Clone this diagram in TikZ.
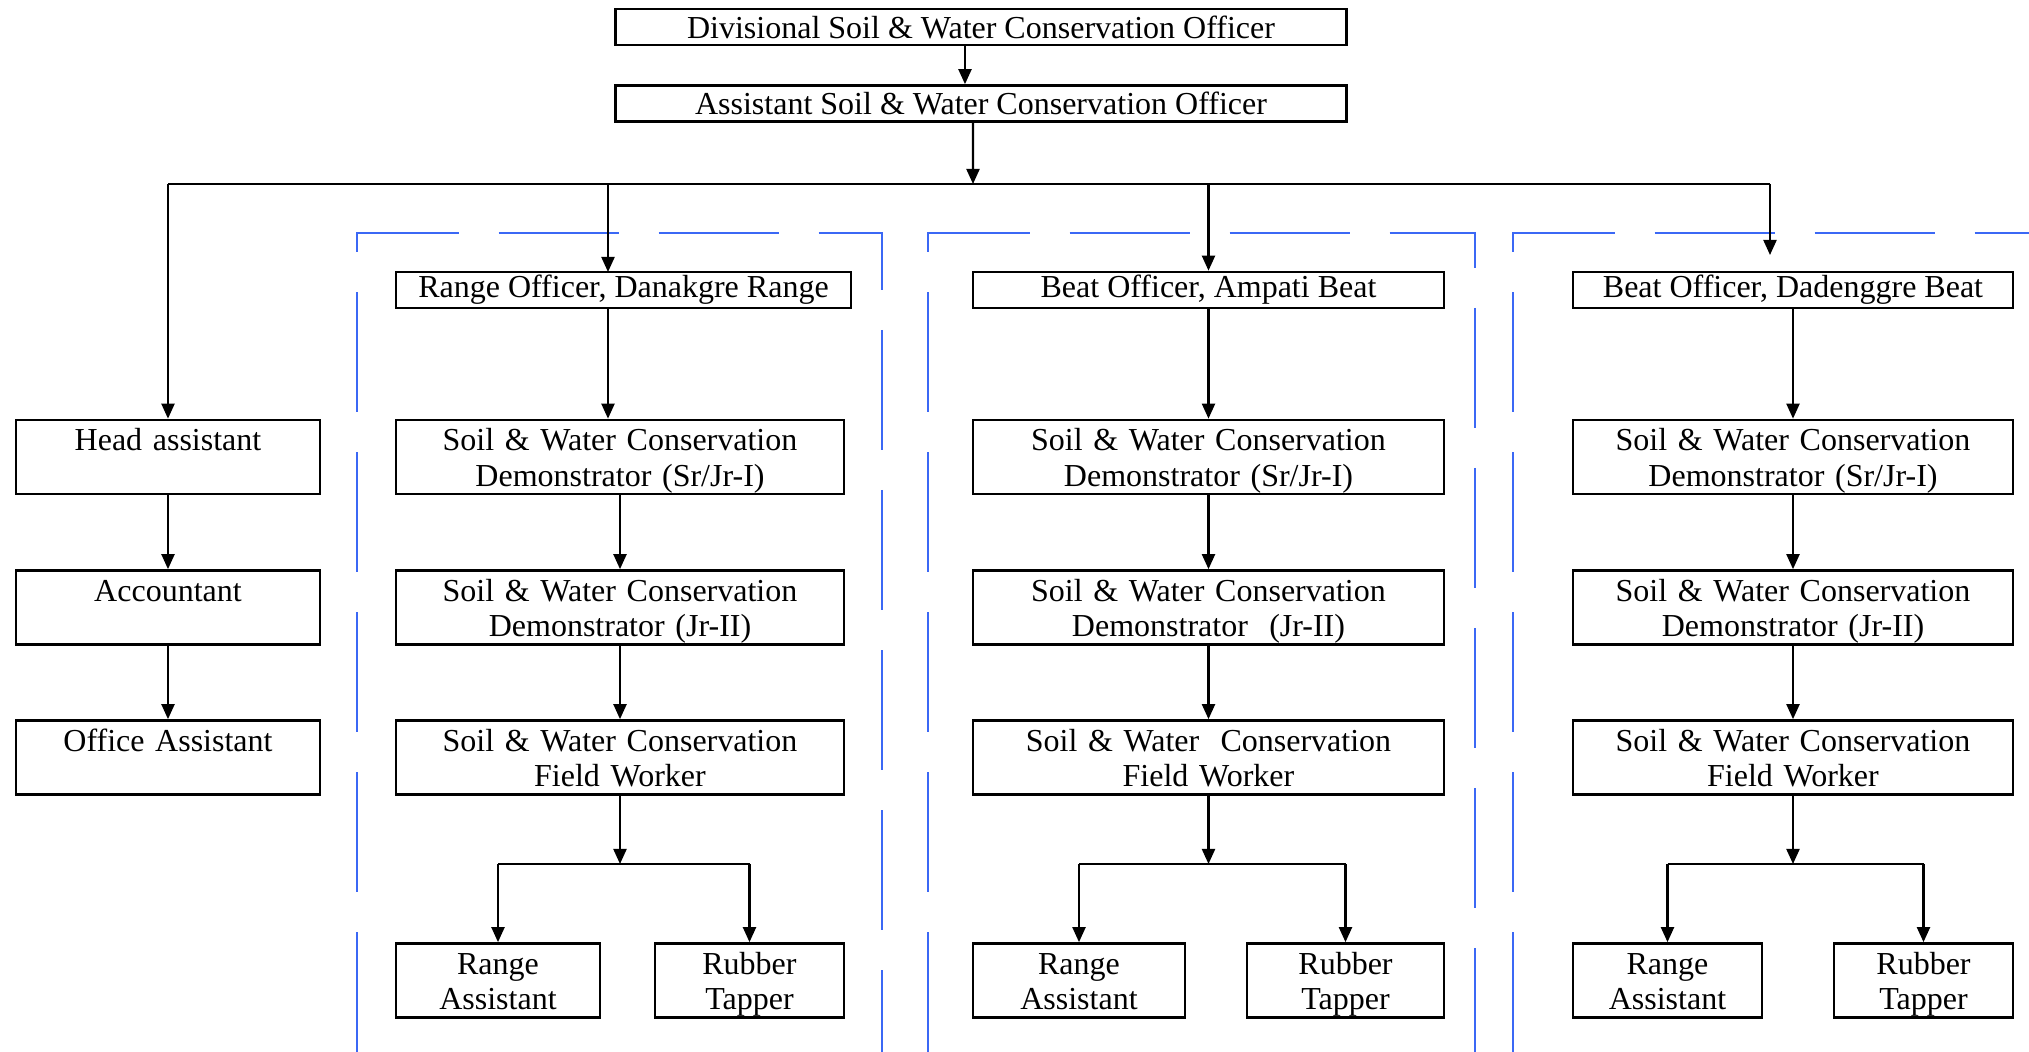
\documentclass[tikz,border=0pt]{standalone}
\usepackage{fontspec}
\setmainfont{Liberation Serif}
\usetikzlibrary{arrows.meta}
\definecolor{zoneblue}{RGB}{59,104,245}
\tikzset{
  onebox/.style={draw, line width=0.75pt, inner sep=0pt, minimum height=0.36cm, font=\fontsize{9.1}{10}\selectfont},
  twobox/.style={draw, line width=0.75pt, inner sep=0pt, align=center, text height=0.31cm, text depth=0.43cm, font=\fontsize{9.1}{10}\selectfont},
  link/.style={line width=0.6pt, -{Triangle[length=1.5mm,width=1.3mm]}},
  zone/.style={zoneblue, line width=0.6pt, dash pattern=on 1.2cm off 0.4cm}
}
\begin{document}
\begin{tikzpicture}[x=0.01cm,y=-0.01cm]
    \useasboundingbox (0,0) rectangle (2029,1052);

    % dashed blocks round range and beats
    \draw[zone] (357,1052) -- (357,233) -- (882,233) -- (882,1052);
    \draw[zone] (928,1052) -- (928,233) -- (1475,233) -- (1475,1052);
    \draw[zone] (1513,1052) -- (1513,233) -- (2029,233);

    \node[onebox, minimum width=7.3cm] (dswco) at (981,27) {Divisional Soil \& Water Conservation Officer};
    \node[onebox, minimum width=7.3cm] (aswco) at (981,103.5) {Assistant Soil \& Water Conservation Officer};

    \node[onebox, minimum width=4.55cm] (ro) at (623.5,290) {Range Officer, Danakgre Range};
    \node[onebox, minimum width=4.71cm] (bo1) at (1208.5,290) {Beat Officer, Ampati Beat};
    \node[onebox, minimum width=4.40cm] (bo2) at (1793,290) {Beat Officer, Dadenggre Beat};

    % office
    \node[twobox, text width=3.04cm] (ha) at (168,457) {Head assistant};
    \node[twobox, text width=3.04cm] (acc) at (168,607.5) {Accountant};
    \node[twobox, text width=3.04cm] (oa) at (168,757.5) {Office Assistant};

    % Danakgre range
    \node[twobox, text width=4.48cm] (dm1) at (620,457) {Soil \& Water Conservation\\Demonstrator (Sr/Jr-I)};
    \node[twobox, text width=4.48cm] (dj1) at (620,607.5) {Soil \& Water Conservation\\Demonstrator (Jr-II)};
    \node[twobox, text width=4.48cm] (fw1) at (620,757.5) {Soil \& Water Conservation\\Field Worker};
    \node[twobox, text width=2.04cm] (ra1) at (498,980.5) {Range\\Assistant};
    \node[twobox, text width=1.89cm] (rt1) at (749.5,980.5) {Rubber\\Tapper};

    % Ampati beat
    \node[twobox, text width=4.71cm] (dm2) at (1208.5,457) {Soil \& Water Conservation\\Demonstrator (Sr/Jr-I)};
    \node[twobox, text width=4.71cm] (dj2) at (1208.5,607.5) {Soil \& Water Conservation\\Demonstrator \ (Jr-II)};
    \node[twobox, text width=4.71cm] (fw2) at (1208.5,757.5) {Soil \& Water \ Conservation\\Field Worker};
    \node[twobox, text width=2.12cm] (ra2) at (1079,980.5) {Range\\Assistant};
    \node[twobox, text width=1.97cm] (rt2) at (1345.5,980.5) {Rubber\\Tapper};

    % Dadenggre beat
    \node[twobox, text width=4.40cm] (dm3) at (1793,457) {Soil \& Water Conservation\\Demonstrator (Sr/Jr-I)};
    \node[twobox, text width=4.40cm] (dj3) at (1793,607.5) {Soil \& Water Conservation\\Demonstrator (Jr-II)};
    \node[twobox, text width=4.40cm] (fw3) at (1793,757.5) {Soil \& Water Conservation\\Field Worker};
    \node[twobox, text width=1.89cm] (ra3) at (1667.5,980.5) {Range\\Assistant};
    \node[twobox, text width=1.79cm] (rt3) at (1923.5,980.5) {Rubber\\Tapper};

    \coordinate (bus) at (973,184);
    \coordinate (roin) at (608,272);
    \coordinate (bo2in) at (1770,255);
    \coordinate (fork1) at (620,864);
    \coordinate (fork2) at (1208.5,864);
    \coordinate (fork3) at (1793,864);

    \draw[link] ([xshift=-0.16cm]dswco.south) -- ([xshift=-0.16cm]aswco.north);
    \draw[link] ([xshift=-0.08cm]aswco.south) -- (bus);

    \draw[line width=0.5pt] (ha.north |- bus) -- (bo2in |- bus);
    \draw[link] (ha.north |- bus) -- (ha.north);
    \draw[link] (roin |- bus) -- (roin);
    \draw[link] (bo1.north |- bus) -- (bo1.north);
    \draw[link] (bo2in |- bus) -- (bo2in);

    \draw[link] (ha) -- (acc);
    \draw[link] (acc) -- (oa);

    \draw[link] (roin |- ro.south) -- (roin |- dm1.north);
    \draw[link] (dm1) -- (dj1);
    \draw[link] (dj1) -- (fw1);
    \draw[link] (fw1) -- (fork1);
    \draw[line width=0.5pt] (ra1.north |- fork1) -- (rt1.north |- fork1);
    \draw[link] (ra1.north |- fork1) -- (ra1.north);
    \draw[link] (rt1.north |- fork1) -- (rt1.north);

    \draw[link] (bo1) -- (dm2);
    \draw[link] (dm2) -- (dj2);
    \draw[link] (dj2) -- (fw2);
    \draw[link] (fw2) -- (fork2);
    \draw[line width=0.5pt] (ra2.north |- fork2) -- (rt2.north |- fork2);
    \draw[link] (ra2.north |- fork2) -- (ra2.north);
    \draw[link] (rt2.north |- fork2) -- (rt2.north);

    \draw[link] (bo2) -- (dm3);
    \draw[link] (dm3) -- (dj3);
    \draw[link] (dj3) -- (fw3);
    \draw[link] (fw3) -- (fork3);
    \draw[line width=0.5pt] (ra3.north |- fork3) -- (rt3.north |- fork3);
    \draw[link] (ra3.north |- fork3) -- (ra3.north);
    \draw[link] (rt3.north |- fork3) -- (rt3.north);
\end{tikzpicture}
\end{document}
